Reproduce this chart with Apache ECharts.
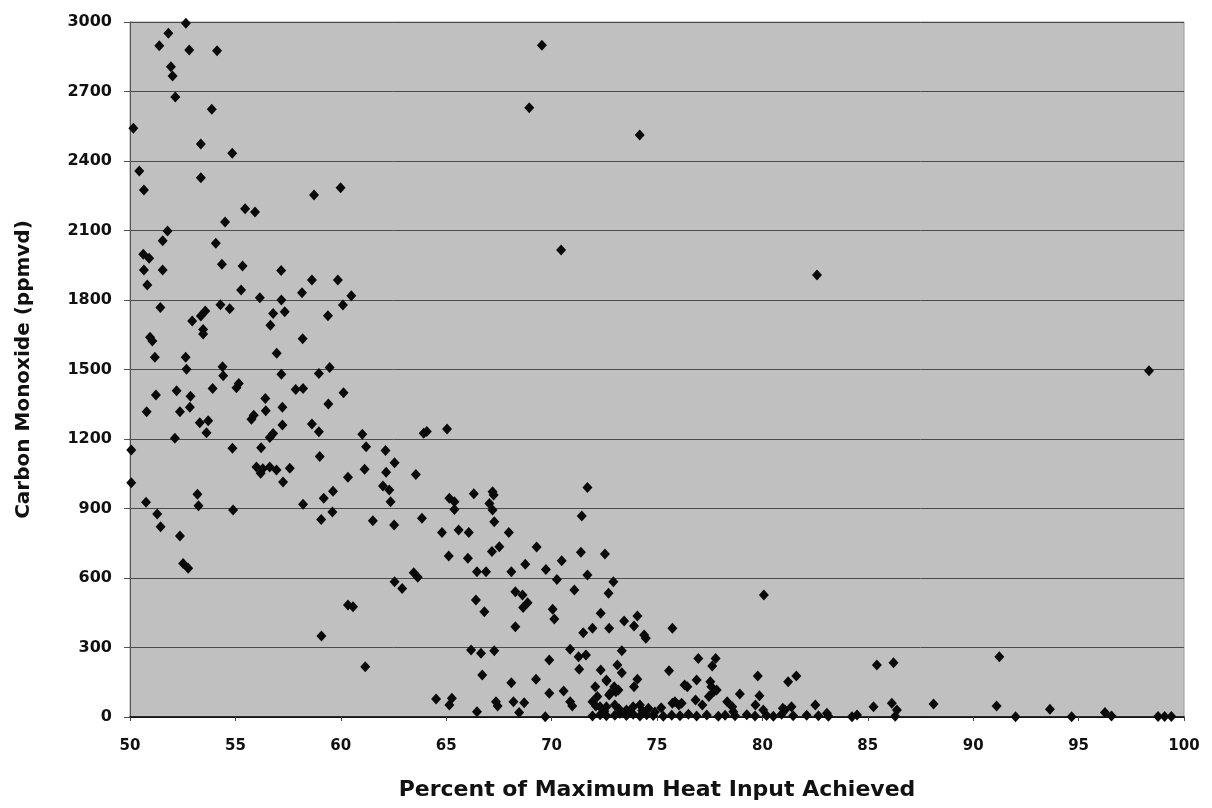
<!DOCTYPE html>
<html>
<head>
<meta charset="utf-8">
<script src="https://cdn.jsdelivr.net/npm/echarts@6/dist/echarts.min.js"></script>
<style>
html,body{margin:0;padding:0;background:#fff;}
#chart{width:1212px;height:808px;}
</style>
</head>
<body>
<div id="chart"></div>
<script>
// Percent of Maximum Heat Input Achieved (x) and Carbon Monoxide ppmvd (y)
const pctHeatInput = [
52.65,51.82,51.39,52.81,54.13,51.94,52.02,52.15,53.88,50.16,53.36,54.85,50.44,53.36,50.66,58.73,59.99,55.46,55.93,54.51,51.78,51.55,54.07,
50.63,50.91,50.66,51.55,50.82,54.36,55.34,57.17,51.44,55.27,56.16,57.18,58.16,58.63,59.86,60.50,54.29,54.73,60.10,57.34,56.79,53.57,53.36,52.95,59.39,56.66,53.47,53.47,50.95,51.06,58.19,56.96,51.18,52.64,52.68,54.39,54.42,57.18,58.96,59.47,55.16,55.05,53.92,51.23,52.21,52.87,57.86,58.21,60.13,56.42,52.84,52.37,50.79,56.44,57.23,59.41,55.87,55.76,53.31,53.71,53.63,57.23,58.63,58.96,52.13,56.63,56.79,61.02,61.20,50.06,54.86,56.22,59.00,62.12,62.55,56.00,56.30,56.63,56.95,57.58,56.20,57.26,60.34,61.13,62.15,62.00,62.30,50.06,
50.76,53.20,53.25,54.89,51.29,51.45,52.37,52.52,52.76,58.21,59.19,59.63,59.07,59.60,61.52,62.53,62.36,62.55,60.34,60.58,59.08,61.16,
63.93,64.08,65.04,63.56,63.85,71.70,65.15,65.39,65.39,66.31,67.20,67.25,67.05,67.20,67.28,71.43,64.80,65.59,66.07,67.97,67.17,67.52,69.29,65.12,66.03,71.39,72.53,70.48,68.75,63.46,63.65,62.91,66.46,66.89,68.09,69.73,70.25,71.70,72.93,72.70,71.08,66.41,66.81,68.28,68.62,68.86,68.65,70.05,70.13,68.28,72.33,71.94,71.50,72.73,73.44,73.91,74.07,74.39,74.47,75.73,66.18,66.65,67.28,70.88,71.28,71.63,71.31,73.33,73.12,73.33,72.33,72.61,74.07,75.57,73.91,72.97,73.05,72.07,72.73,69.89,69.26,68.09,66.71,69.89,70.57,64.52,65.27,65.15,67.36,67.44,68.19,68.70,68.46,66.46,70.88,70.98,69.70,71.94,72.10,71.94,75.73,72.17,
80.07,76.96,77.78,77.62,76.88,76.31,76.44,77.53,77.58,77.69,77.46,78.93,79.78,79.86,81.22,81.61,85.43,86.22,88.12,76.04,76.83,77.15,78.33,78.57,79.67,80.97,81.38,82.51,83.06,84.25,84.49,85.27,86.14,86.38,86.30,
72.60,73.17,72.78,77.83,75.85,76.17,78.62,80.04,81.07,
72.30,72.60,73.00,73.24,73.55,73.87,74.19,74.51,74.82,75.30,75.70,76.09,76.49,76.88,77.36,77.91,78.23,78.70,79.26,79.65,80.20,80.52,80.91,81.46,82.10,82.66,83.13,
72.30,72.60,73.00,73.55,73.87,74.19,74.59,72.50,73.20,73.70,74.30,74.90,75.20,
91.24,91.11,93.64,92.01,94.67,96.25,96.56,98.77,99.08,99.40,
69.54,68.94,74.18,70.45,82.59,98.34
];
const coPpmvd = [
2995,2951,2898,2879,2876,2807,2767,2676,2623,2541,2473,2433,2357,2328,2275,2253,2285,2194,2180,2137,2098,2056,2045,
1998,1980,1929,1929,1865,1954,1947,1927,1768,1843,1810,1800,1831,1886,1886,1818,1780,1762,1778,1749,1742,1752,1731,1709,1732,1691,1673,1653,1639,1623,1633,1570,1553,1553,1501,1512,1473,1480,1483,1509,1440,1421,1418,1390,1408,1385,1414,1418,1400,1375,1337,1318,1318,1322,1337,1351,1303,1285,1270,1279,1227,1260,1265,1231,1203,1207,1224,1221,1167,1152,1160,1162,1124,1150,1098,1079,1072,1079,1066,1074,1052,1014,1035,1069,1056,997,980,1011,
927,962,912,893,876,821,781,663,642,918,944,975,853,885,847,829,929,584,483,476,350,217,
1225,1232,1243,1047,858,991,944,929,896,964,972,958,922,893,843,868,796,807,796,796,714,735,734,695,685,711,704,675,659,623,603,555,627,627,627,637,594,613,584,534,548,505,454,541,527,493,473,465,423,390,448,383,364,383,414,393,436,354,340,383,289,275,286,292,260,268,206,286,224,191,203,155,163,200,131,131,109,131,95,246,163,148,181,102,112,78,81,52,66,47,66,62,19,23,66,47,1,66,47,4,59,88,
527,253,253,220,160,138,131,152,131,109,88,99,177,92,152,177,224,234,56,52,73,52,66,44,52,38,44,52,16,1,9,44,59,30,3,
160,117,102,117,66,59,23,30,30,
10,5,8,15,6,12,4,10,6,3,8,5,12,4,9,3,8,5,10,4,7,3,12,5,8,5,3,
44,44,52,30,44,52,38,25,35,20,28,22,40,
260,47,33,1,1,19,4,2,2,2,
2900,2630,2512,2016,1908,1495
];
const xTicks = {min: 50, max: 100, interval: 5};
const yTicks = {min: 0, max: 3000, interval: 300};
const xTitle = 'Percent of Maximum Heat Input Achieved';
const yTitle = 'Carbon Monoxide (ppmvd)';

const points = pctHeatInput.map((x, i) => [x, coPpmvd[i]]);

const chart = echarts.init(document.getElementById('chart'), null, {renderer: 'canvas'});
const font = 'DejaVu Sans';
chart.setOption({
  animation: false,
  backgroundColor: '#ffffff',
  grid: {
    left: 130, right: 28, top: 22, bottom: 91,
    show: true, backgroundColor: '#c0c0c0', borderColor: '#9a9a9a', borderWidth: 1
  },
  xAxis: {
    type: 'value', min: xTicks.min, max: xTicks.max, interval: xTicks.interval,
    name: xTitle, nameLocation: 'middle', nameGap: 62,
    nameTextStyle: {fontFamily: font, fontWeight: 'bold', fontSize: 22, color: '#111'},
    axisLine: {show: true, onZero: false, lineStyle: {color: '#000', width: 1.5}},
    axisTick: {show: true, inside: false, length: 4, lineStyle: {color: '#444'}},
    axisLabel: {fontFamily: font, fontWeight: 'bold', fontSize: 15, color: '#111', margin: 22,
      formatter: v => String(v)},
    splitLine: {show: false}
  },
  yAxis: {
    type: 'value', min: yTicks.min, max: yTicks.max, interval: yTicks.interval,
    name: yTitle, nameLocation: 'middle', nameGap: 96,
    nameTextStyle: {fontFamily: font, fontWeight: 'bold', fontSize: 20, color: '#111'},
    axisLine: {show: true, lineStyle: {color: '#555', width: 1}},
    axisTick: {show: true, inside: false, length: 6, lineStyle: {color: '#555'}},
    axisLabel: {fontFamily: font, fontWeight: 'bold', fontSize: 16, color: '#111', margin: 18,
      formatter: v => String(v)},
    splitLine: {show: true, lineStyle: {color: '#4a4a4a', width: 1}}
  },
  series: [{
    type: 'scatter',
    data: points,
    symbol: 'diamond',
    symbolSize: [10, 11],
    itemStyle: {color: '#0a0a0a', opacity: 1},
    silent: true
  }]
});
</script>
</body>
</html>
